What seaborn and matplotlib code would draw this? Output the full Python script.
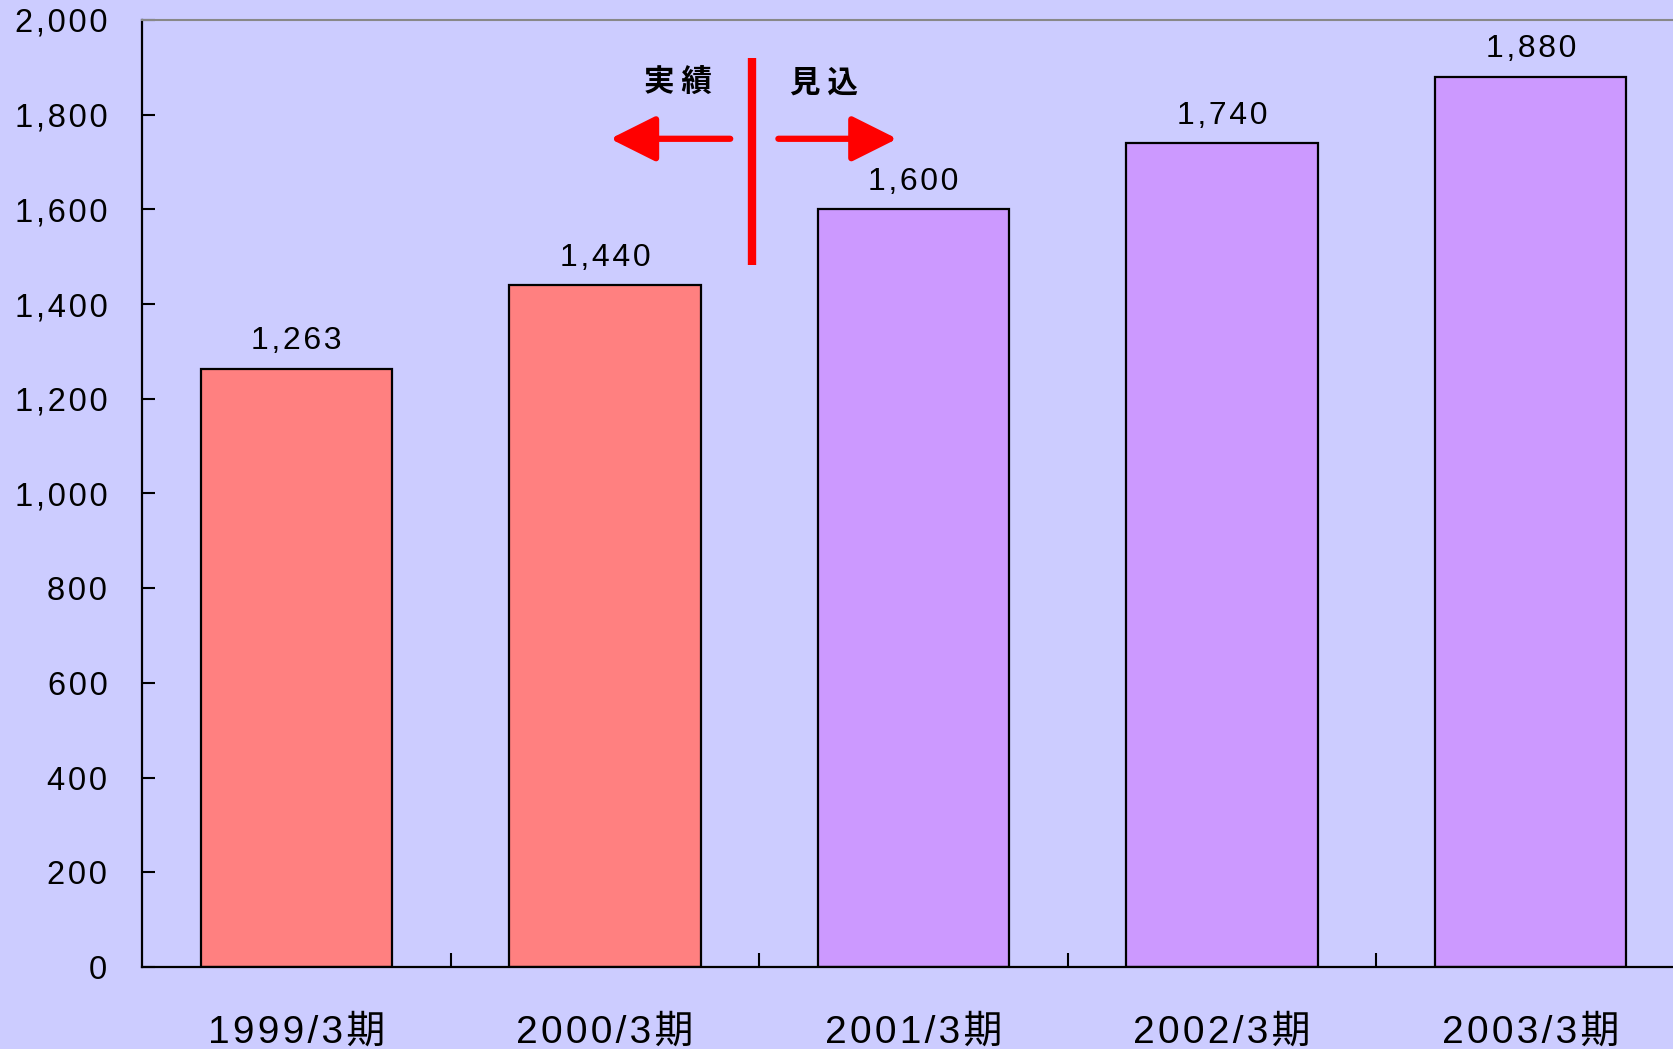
import matplotlib
matplotlib.use("Agg")
import matplotlib.pyplot as plt
import matplotlib.ticker as mticker
import seaborn as sns
import pandas as pd

periods = ["1999/3期", "2000/3期", "2001/3期", "2002/3期", "2003/3期"]
values = [1263, 1440, 1600, 1740, 1880]
bar_colors = ["#FF8080", "#FF8080", "#CC99FF", "#CC99FF", "#CC99FF"]
actual_label = "実 績"
forecast_label = "見 込"

sns.set_style("white")
plt.rcParams["font.family"] = ["Liberation Sans", "Noto Sans CJK JP", "DejaVu Sans"]
plt.rcParams["text.color"] = "black"
plt.rcParams["xtick.color"] = "black"
plt.rcParams["ytick.color"] = "black"
plt.rcParams["xtick.labelcolor"] = "black"
plt.rcParams["ytick.labelcolor"] = "black"

HS = "\u200a"  # hair space, widens the letter spacing a little


def spaced(s):
    return HS.join(s)


bg = "#CCCCFF"
fig = plt.figure(figsize=(16.73, 10.49), dpi=100, facecolor=bg)
ax = fig.add_axes([0.0849, 0.0782, 0.9223, 0.9028])
ax.set_facecolor(bg)

df = pd.DataFrame({"period": periods, "value": values})
sns.barplot(data=df, x="period", y="value", hue="period", palette=bar_colors,
            legend=False, width=0.62, edgecolor="black", linewidth=1.6,
            saturation=1, ax=ax)

for c in ax.containers:
    ax.bar_label(c, labels=[spaced(f"{v:,.0f}") for v in c.datavalues],
                 padding=9, fontsize=23, color="black")

ax.set_xlim(-0.5, 4.5)
ax.set_ylim(0, 2000)
ax.yaxis.set_major_locator(mticker.MultipleLocator(200))
ax.yaxis.set_major_formatter(mticker.FuncFormatter(lambda v, p: spaced(f"{v:,.0f}")))
ax.set_xticks(range(len(periods)))
ax.set_xticklabels([spaced(p) for p in periods])
ax.set_xlabel("")
ax.set_ylabel("")

ax.tick_params(axis="y", direction="in", length=9, width=1.5, pad=25,
               labelsize=23.5, left=True)
ax.tick_params(axis="x", which="major", length=0, pad=34, labelsize=28)
ax.set_xticks([0.5, 1.5, 2.5, 3.5], minor=True)
ax.tick_params(axis="x", which="minor", direction="in", length=10, width=1.5,
               bottom=True)

for s in ["left", "bottom"]:
    ax.spines[s].set_color("black")
    ax.spines[s].set_linewidth(1.6)
ax.spines["top"].set_color("#888888")
ax.spines["top"].set_linewidth(1.5)
ax.spines["right"].set_visible(False)

# divider and arrows
ax.plot([1.475, 1.475], [1483, 1920], color="red", lw=6, solid_capstyle="butt")
arrow = dict(arrowstyle="-|>,head_length=1.4,head_width=0.7", color="red",
             lw=4.5, mutation_scale=20, shrinkA=0, shrinkB=0)
ax.annotate("", xy=(1.017, 1749), xytext=(1.406, 1749), arrowprops=arrow)
ax.annotate("", xy=(1.947, 1749), xytext=(1.562, 1749), arrowprops=arrow)
ax.text(1.237, 1867, actual_label, ha="center", va="center", fontsize=22,
        fontweight="bold", family=["Noto Sans CJK JP"], color="black")
ax.text(1.711, 1867, forecast_label, ha="center", va="center", fontsize=22,
        fontweight="bold", family=["Noto Sans CJK JP"], color="black")

fig.savefig("out.png", dpi=100, facecolor=bg)
